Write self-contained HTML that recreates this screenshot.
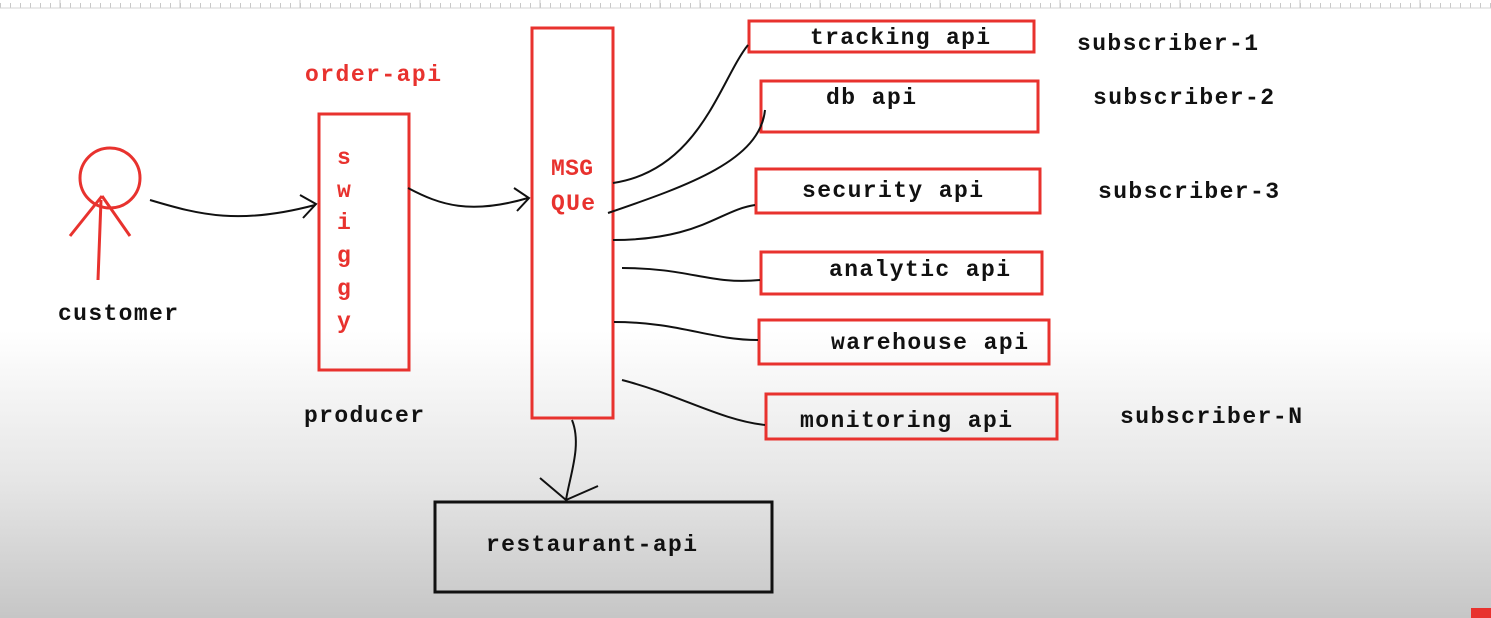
<!DOCTYPE html>
<html><head><style>
html,body{margin:0;padding:0;}
body{width:1491px;height:618px;overflow:hidden;background:linear-gradient(to bottom,#fff 0px,#fff 330px,#e6e6e6 480px,#c6c6c6 618px);}
svg{position:absolute;left:0;top:0;}
text{font-family:"Liberation Mono",monospace;font-weight:bold;font-size:23px;}
.r{fill:#e8322e;} .k{fill:#111;}
</style></head><body>
<svg width="1491" height="618" viewBox="0 0 1491 618">
<defs>
<pattern id="tk" x="0" y="0" width="10" height="9" patternUnits="userSpaceOnUse">
<line x1="0.5" y1="3" x2="0.5" y2="8" stroke="#c8c8c8" stroke-width="1"/>
</pattern>
</defs>
<rect x="0" y="0" width="1491" height="9" fill="url(#tk)"/>
<line x1="0" y1="8" x2="1491" y2="8" stroke="#d4d4d4" stroke-width="1"/>
<g stroke="#c8c8c8" stroke-width="1">
<path d="M60 8V0M180 8V0M300 8V0M420 8V0M540 8V0M660 8V0M700 8V0M820 8V0M940 8V0M1060 8V0M1180 8V0M1300 8V0M1420 8V0"/>
</g>
<g fill="none" stroke="#e8322e" stroke-width="3">
<circle cx="110" cy="178" r="30"/>
<path d="M102 196 L70 236 M102 196 L130 236 M101 200 L98 280"/>
<rect x="319" y="114" width="90" height="256"/>
<rect x="532" y="28" width="81" height="390"/>
<rect x="749" y="21" width="285" height="31"/>
<rect x="761" y="81" width="277" height="51"/>
<rect x="756" y="169" width="284" height="44"/>
<rect x="761" y="252" width="281" height="42"/>
<rect x="759" y="320" width="290" height="44"/>
<rect x="766" y="394" width="291" height="45"/>
</g>
<g fill="none" stroke="#111" stroke-width="2">
<path d="M150 200 C200 215,240 225,315 205"/>
<path d="M300 195 L316 204 L303 218"/>
<path d="M408 188 C440 205,470 215,528 198"/>
<path d="M514 188 L529 198 L517 211"/>
<path d="M613 183 C700 170,720 80,748 45"/>
<path d="M608 213 C690 185,760 160,765 110"/>
<path d="M613 240 C700 240,720 210,755 205"/>
<path d="M622 268 C690 268,710 285,760 280"/>
<path d="M614 322 C680 322,710 340,758 340"/>
<path d="M622 380 C680 395,720 420,765 425"/>
<path d="M572 420 C582 445,570 475,566 500"/>
<path d="M540 478 L566 500 L598 486"/>
<rect x="435" y="502" width="337" height="90" stroke-width="3"/>
</g>
<text class="r" x="305" y="81" textLength="136">order-api</text>
<text class="r" x="337" y="164">s</text>
<text class="r" x="337" y="197">w</text>
<text class="r" x="337" y="229">i</text>
<text class="r" x="337" y="262">g</text>
<text class="r" x="337" y="295">g</text>
<text class="r" x="337" y="328">y</text>
<text class="r" x="551" y="175" textLength="42">MSG</text>
<text class="r" x="551" y="210" textLength="44">QUe</text>
<text class="k" x="58" y="320" textLength="120">customer</text>
<text class="k" x="304" y="422" textLength="120">producer</text>
<text class="k" x="810" y="44" textLength="180">tracking api</text>
<text class="k" x="826" y="104" textLength="90">db api</text>
<text class="k" x="802" y="197" textLength="181">security api</text>
<text class="k" x="829" y="276" textLength="181">analytic api</text>
<text class="k" x="831" y="349" textLength="197">warehouse api</text>
<text class="k" x="800" y="427" textLength="212">monitoring api</text>
<text class="k" x="1077" y="50" textLength="181">subscriber-1</text>
<text class="k" x="1093" y="104" textLength="181">subscriber-2</text>
<text class="k" x="1098" y="198" textLength="181">subscriber-3</text>
<text class="k" x="1120" y="423" textLength="182">subscriber-N</text>
<text class="k" x="486" y="551" textLength="211">restaurant-api</text>
<rect x="1471" y="608" width="20" height="10" fill="#e8322e"/>
</svg>
</body></html>
